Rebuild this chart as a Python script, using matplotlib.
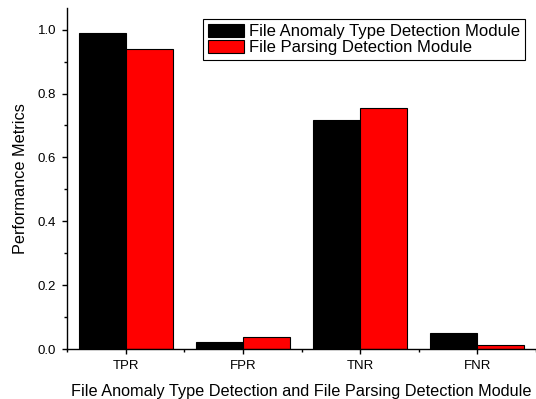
import numpy as np
import matplotlib.pyplot as plt
from matplotlib.ticker import MultipleLocator

plt.rcParams['font.family'] = ['Liberation Sans', 'DejaVu Sans']

categories = ["TPR", "FPR", "TNR", "FNR"]
anomaly_module = [0.989, 0.022, 0.717, 0.049]
parsing_module = [0.940, 0.039, 0.755, 0.012]
series_names = ["File Anomaly Type Detection Module", "File Parsing Detection Module"]

fig = plt.figure(figsize=(5.36, 3.99), dpi=100)
ax = fig.add_axes([0.125, 0.1253, 0.875, 0.8547])

x = np.arange(1, len(categories) + 1)
width = 0.4
ax.bar(x - width / 2, anomaly_module, width, color="black", edgecolor="black",
       linewidth=0.8, label=series_names[0])
ax.bar(x + width / 2, parsing_module, width, color="#ff0000", edgecolor="black",
       linewidth=0.8, label=series_names[1])

ax.set_xlim(0.5, 4.5)
ax.set_ylim(0, 1.068)
ax.set_xticks(x)
ax.set_xticklabels(categories, fontsize=9.5)
ax.xaxis.set_minor_locator(MultipleLocator(1.0, offset=0.5))
ax.yaxis.set_major_locator(MultipleLocator(0.2))
ax.yaxis.set_minor_locator(MultipleLocator(0.1))
ax.set_yticklabels(["%.1f" % v for v in ax.get_yticks()], fontsize=9.5)

ax.spines["top"].set_visible(False)
ax.spines["right"].set_visible(False)
ax.spines["left"].set_linewidth(1.0)
ax.spines["bottom"].set_linewidth(1.0)
ax.tick_params(which="major", direction="out", length=3.8, width=1.0, pad=4)
ax.tick_params(which="minor", direction="out", length=2.4, width=1.0)

ax.set_ylabel("Performance Metrics", fontsize=11.7, labelpad=7)
ax.set_xlabel("File Anomaly Type Detection and File Parsing Detection Module", fontsize=11.7,
              labelpad=9)

leg = ax.legend(loc="upper left", bbox_to_anchor=(0.3787, 0.9516), bbox_transform=fig.transFigure,
                fontsize=12, frameon=True, fancybox=False, borderaxespad=0,
                handlelength=2.16, handleheight=0.78, handletextpad=0.3,
                labelspacing=0.05, borderpad=0.3)
leg.get_frame().set_edgecolor("black")
leg.get_frame().set_linewidth(0.8)
leg.get_frame().set_alpha(1)

plt.savefig("out.png", dpi=100)
